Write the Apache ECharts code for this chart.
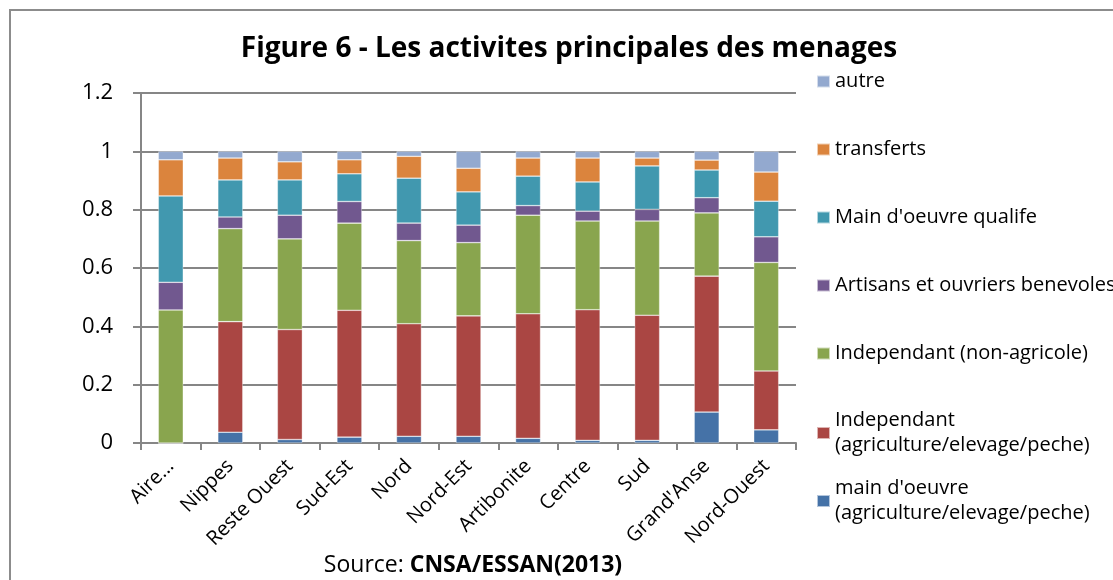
<!DOCTYPE html>
<html>
<head>
    <meta charset="utf-8" />
    <title>Figure 6</title>
    <script src="https://cdn.jsdelivr.net/npm/echarts@6/dist/echarts.min.js"></script>
    <style>
        html, body { margin: 0; padding: 0; background: #fff; }
        #main { width: 1113px; height: 580px; }
    </style>
</head>
<body>
<div id="main"></div>
<script type="text/javascript">
    // departements
    var regions = ['Aire...', 'Nippes', 'Reste Ouest', 'Sud-Est', 'Nord', 'Nord-Est',
        'Artibonite', 'Centre', 'Sud', "Grand'Anse", 'Nord-Ouest'];

    // parts par activite
    var mainOeuvreAgri = [0.000, 0.037, 0.012, 0.020, 0.023, 0.023, 0.016, 0.009, 0.009, 0.106, 0.045];
    var indepAgri      = [0.000, 0.379, 0.377, 0.435, 0.386, 0.413, 0.427, 0.448, 0.429, 0.466, 0.202];
    var indepNonAgri   = [0.456, 0.319, 0.311, 0.299, 0.285, 0.251, 0.338, 0.304, 0.323, 0.217, 0.372];
    var artisans       = [0.095, 0.040, 0.081, 0.074, 0.060, 0.060, 0.033, 0.034, 0.040, 0.052, 0.088];
    var mainQualifie   = [0.296, 0.127, 0.121, 0.095, 0.154, 0.114, 0.101, 0.100, 0.149, 0.095, 0.122];
    var transferts     = [0.124, 0.075, 0.062, 0.048, 0.075, 0.081, 0.062, 0.082, 0.027, 0.034, 0.100];
    var autre          = [0.029, 0.023, 0.036, 0.029, 0.017, 0.058, 0.023, 0.023, 0.023, 0.030, 0.071];

    var yTicks = { min: 0, max: 1.2, step: 0.2 };

    var font = 'Open Sans';
    var gridColor = '#868686';

    function bar(name, data, color) {
        return {
            name: name,
            type: 'bar',
            stack: 'total',
            barWidth: 25,
            data: data,
            itemStyle: { color: color, borderColor: 'rgba(255,255,255,0.6)', borderWidth: 0.6 }
        };
    }

    var series = [
        bar("main d'oeuvre\n(agriculture/elevage/peche)", mainOeuvreAgri, '#4572A7'),
        bar('Independant\n(agriculture/elevage/peche)', indepAgri, '#AA4643'),
        bar('Independant (non-agricole)', indepNonAgri, '#89A54E'),
        bar('Artisans et ouvriers benevoles', artisans, '#71588F'),
        bar("Main d'oeuvre qualife", mainQualifie, '#4198AF'),
        bar('transferts', transferts, '#DB843D'),
        bar('autre', autre, '#93A9CF')
    ];

    var legendText = { fontFamily: font, fontSize: 20, color: '#000', lineHeight: 25 };

    var option = {
        backgroundColor: '#fff',
        animation: false,
        textStyle: { fontFamily: font },
        title: [{
            text: 'Figure 6 - Les activites principales des menages',
            left: 564,
            top: 30,
            textAlign: 'center',
            textStyle: { fontFamily: font, fontSize: 28, fontWeight: 'bold', color: '#000' }
        }, {
            text: '{a|Source: }{b|CNSA/ESSAN(2013)}',
            left: 468,
            top: 549,
            textAlign: 'center',
            textStyle: {
                fontWeight: 'normal',
                rich: {
                    a: { fontFamily: font, fontSize: 23, fontWeight: 'normal', color: '#000' },
                    b: { fontFamily: font, fontSize: 23, fontWeight: 'bold', color: '#000' }
                }
            }
        }],
        legend: [{
            orient: 'vertical',
            left: 816,
            top: 69,
            padding: 0,
            itemWidth: 13,
            itemHeight: 12,
            itemGap: 43,
            icon: 'rect',
            textStyle: legendText,
            data: ['autre', 'transferts', "Main d'oeuvre qualife",
                'Artisans et ouvriers benevoles', 'Independant (non-agricole)']
        }, {
            orient: 'vertical',
            left: 816,
            top: 408,
            padding: 0,
            itemWidth: 13,
            itemHeight: 12,
            itemGap: 18,
            icon: 'rect',
            textStyle: legendText,
            data: ['Independant\n(agriculture/elevage/peche)',
                "main d'oeuvre\n(agriculture/elevage/peche)"]
        }],
        grid: { left: 141, right: 317, top: 93, bottom: 137 },
        xAxis: {
            type: 'category',
            data: regions,
            axisLine: { lineStyle: { color: gridColor, width: 2 } },
            axisTick: { show: true, length: 7, lineStyle: { color: gridColor, width: 2 } },
            axisLabel: { rotate: 45, fontFamily: font, fontSize: 20, color: '#000', margin: 20, interval: 0 }
        },
        yAxis: {
            type: 'value',
            min: yTicks.min,
            max: yTicks.max,
            interval: yTicks.step,
            axisLine: { show: true, lineStyle: { color: gridColor, width: 2 } },
            axisTick: { show: true, length: 8, lineStyle: { color: gridColor, width: 2 } },
            splitLine: { lineStyle: { color: gridColor, width: 2 } },
            axisLabel: { fontFamily: font, fontSize: 22, color: '#000', margin: 28 }
        },
        graphic: [{
            type: 'rect',
            shape: { x: 10, y: 10, width: 1130, height: 600 },
            style: { fill: 'none', stroke: '#8c8c8c', lineWidth: 2 },
            silent: true
        }],
        series: series
    };

    var myChart = echarts.init(document.getElementById('main'));
    myChart.setOption(option);
</script>
</body>
</html>
